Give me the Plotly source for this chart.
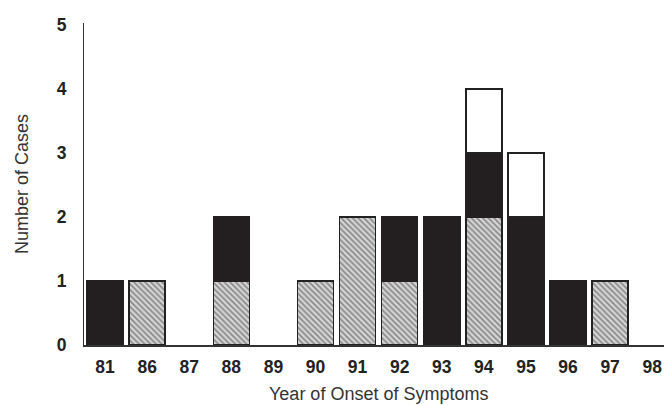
import plotly.graph_objects as go

years = ["81", "86", "87", "88", "89", "90", "91", "92", "93", "94", "95", "96", "97", "98"]
hatched = [0, 1, 0, 1, 0, 1, 2, 1, 0, 2, 0, 0, 1, 0]
black = [1, 0, 0, 1, 0, 0, 0, 1, 2, 1, 2, 1, 0, 0]
white = [0, 0, 0, 0, 0, 0, 0, 0, 0, 1, 1, 0, 0, 0]
y_ticks = [0, 1, 2, 3, 4, 5]


def nz(vals):
    return [v if v else None for v in vals]


fig = go.Figure()
fig.add_trace(go.Bar(
    x=years, y=nz(hatched), name="hatched",
    marker=dict(color="#cfcfcf", line=dict(color="#222", width=1.5),
                pattern=dict(shape="\\", fgcolor="#3a3a3a", bgcolor="#d4d4d4", size=4, solidity=0.4)),
))
fig.add_trace(go.Bar(
    x=years, y=nz(black), name="black",
    marker=dict(color="#231f20", line=dict(color="#231f20", width=1.5)),
))
fig.add_trace(go.Bar(
    x=years, y=nz(white), name="white",
    marker=dict(color="white", line=dict(color="#222", width=1.5)),
))

fig.update_layout(
    barmode="stack",
    bargap=0.145,
    width=664, height=405,
    margin=dict(l=84, r=0, t=23, b=60, autoexpand=False),
    paper_bgcolor="white", plot_bgcolor="white",
    showlegend=False,
    font=dict(family="Liberation Sans, Arial, sans-serif", color="#222"),
    xaxis=dict(
        type="category", range=[-0.5, 13.28], automargin=False,
        showline=True, linecolor="#333", linewidth=1.5,
        showgrid=False, ticks="",
        tickfont=dict(size=17.5, color="#222", weight="bold"),
        ticklabelstandoff=5,
    ),
    yaxis=dict(
        range=[0, 5.03], tickvals=y_ticks, automargin=False,
        showline=True, linecolor="#333", linewidth=1.2,
        showgrid=False, zeroline=False, ticks="",
        tickfont=dict(size=17.5, color="#222", weight="bold"),
        ticklabelstandoff=13,
    ),
    annotations=[
        dict(text="Year of Onset of Symptoms", xref="paper", yref="paper",
             x=0.508, y=0, xanchor="center", yanchor="middle", yshift=-49,
             showarrow=False, font=dict(size=18, color="#333")),
        dict(text="Number of Cases", xref="paper", yref="paper",
             x=0, y=0.5, xanchor="center", yanchor="middle", xshift=-62,
             textangle=-90, showarrow=False, font=dict(size=18, color="#333")),
    ],
)

fig.write_html("out.html", config={"displayModeBar": False},
               post_script="document.body.style.margin='0';")
